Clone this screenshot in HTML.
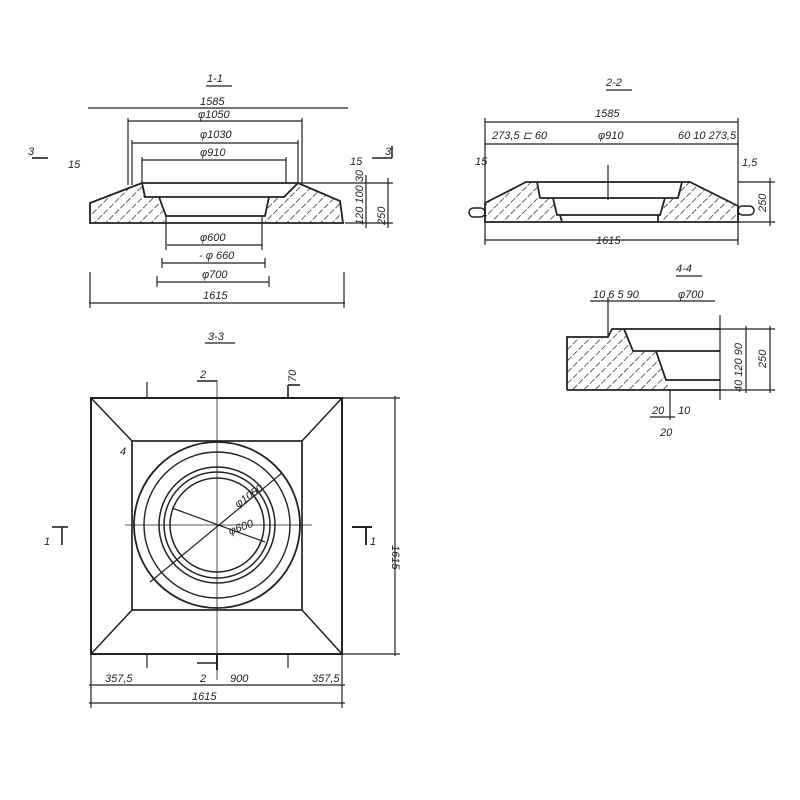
<!DOCTYPE html>
<html><head><meta charset="utf-8"><style>
html,body{margin:0;padding:0;background:#fff}
svg{display:block}
text{font-family:"Liberation Sans",sans-serif;font-style:italic;font-size:11px;fill:#222}
</style></head><body>
<svg width="800" height="800" viewBox="0 0 800 800" xmlns="http://www.w3.org/2000/svg">
<defs>
<pattern id="h" width="8" height="8" patternUnits="userSpaceOnUse" patternTransform="rotate(45)">
<line x1="0" y1="0" x2="0" y2="8" stroke="#222" stroke-width="1.4" stroke-dasharray="6,2"/>
</pattern>
</defs>
<g stroke="#222" fill="none" stroke-width="1.2">
<!-- 1-1 -->
<line x1="88" y1="108" x2="348" y2="108"/>
<line x1="128" y1="121" x2="302" y2="121"/>
<line x1="132" y1="143" x2="298" y2="143"/>
<line x1="142" y1="160" x2="286" y2="160"/>
<line x1="128" y1="118" x2="128" y2="185"/>
<line x1="132" y1="140" x2="132" y2="185"/>
<line x1="142" y1="157" x2="142" y2="183"/>
<line x1="286" y1="157" x2="286" y2="183"/>
<line x1="298" y1="140" x2="298" y2="183"/>
<line x1="302" y1="118" x2="302" y2="183"/>
<line x1="298" y1="183" x2="393" y2="183"/>
<line x1="345" y1="223" x2="393" y2="223"/>
<line x1="388" y1="178" x2="388" y2="228"/>
<line x1="366" y1="175" x2="366" y2="228"/>
<path d="M90,203 L142,183 L145,197 L159,197 L166,216 L166,223 L90,223 Z" fill="url(#h)" stroke="none"/>
<path d="M298,183 L340,201 L343,223 L265,223 L265,216 L269,197 L284,197 Z" fill="url(#h)" stroke="none"/>
<path d="M90,223 L90,203 L142,183 L298,183 L340,201 L343,223 Z" stroke-width="1.8"/>
<path d="M142,183 L145,197 L284,197 L298,183" stroke-width="1.8"/>
<path d="M159,197 L166,216 L265,216 L269,197" stroke-width="1.8"/>
<line x1="166" y1="216" x2="166" y2="250" />
<line x1="262" y1="216" x2="262" y2="250" />
<line x1="167" y1="245" x2="262" y2="245"/>
<line x1="162" y1="263" x2="265" y2="263"/>
<line x1="162" y1="258" x2="162" y2="268"/>
<line x1="265" y1="258" x2="265" y2="268"/>
<line x1="157" y1="282" x2="269" y2="282"/>
<line x1="157" y1="276" x2="157" y2="287"/>
<line x1="269" y1="276" x2="269" y2="287"/>
<line x1="89" y1="303" x2="345" y2="303"/>
<line x1="90" y1="272" x2="90" y2="308"/>
<line x1="344" y1="272" x2="344" y2="308"/>
<line x1="206" y1="86" x2="232" y2="86"/>
<line x1="32" y1="158" x2="48" y2="158" stroke-width="1.6"/>
<line x1="372" y1="158" x2="392" y2="158" stroke-width="1.6"/>
<line x1="392" y1="146" x2="392" y2="158" stroke-width="1.6"/>
<!-- 2-2 -->
<line x1="485" y1="122" x2="738" y2="122"/>
<line x1="485" y1="144" x2="738" y2="144"/>
<line x1="485" y1="118" x2="485" y2="245"/>
<line x1="738" y1="118" x2="738" y2="245"/>
<line x1="485" y1="240" x2="738" y2="240"/>
<line x1="738" y1="182" x2="775" y2="182"/>
<line x1="738" y1="222" x2="775" y2="222"/>
<line x1="770" y1="178" x2="770" y2="226"/>
<line x1="608" y1="165" x2="608" y2="200"/>
<path d="M485,203 L526,182 L537,182 L537,198 L553,198 L557,215 L560,215 L560,222 L485,222 Z" fill="url(#h)" stroke="none"/>
<path d="M690,182 L738,206 L738,222 L660,222 L660,215 L665,198 L678,198 L678,182 Z" fill="url(#h)" stroke="none"/>
<path d="M485,222 L485,203 L526,182 L690,182 L738,206 L738,222 Z" stroke-width="1.8"/>
<path d="M537,182 L540,198 L678,198 L682,182" stroke-width="1.8"/>
<path d="M553,198 L557,215 L660,215 L665,198" stroke-width="1.8"/>
<path d="M560,215 L562,222 M658,215 L658,222" stroke-width="1.8"/>
<rect x="469" y="208" width="16" height="9" rx="4.5" stroke-width="1.5"/>
<rect x="738" y="206" width="16" height="9" rx="4.5" stroke-width="1.5"/>
<line x1="606" y1="90" x2="632" y2="90"/>
<!-- 4-4 -->
<line x1="676" y1="276" x2="702" y2="276"/>
<path d="M567,337 L608,337 L612,329 L624,329 L633,351 L656,351 L666,380 L672,390 L567,390 Z" fill="url(#h)" stroke="none"/>
<path d="M567,390 L567,337 L608,337 L612,329 L720,329" stroke-width="1.8"/>
<path d="M624,329 L633,351 L720,351" stroke-width="1.8"/>
<path d="M656,351 L666,380 L720,380" stroke-width="1.8"/>
<line x1="567" y1="390" x2="720" y2="390" stroke-width="1.8"/>
<line x1="590" y1="301" x2="715" y2="301"/>
<line x1="608" y1="297" x2="608" y2="337"/>
<line x1="720" y1="315" x2="720" y2="400"/>
<line x1="746" y1="326" x2="746" y2="393"/>
<line x1="770" y1="326" x2="770" y2="393"/>
<line x1="720" y1="329" x2="775" y2="329"/>
<line x1="720" y1="390" x2="775" y2="390"/>
<line x1="670" y1="390" x2="670" y2="420"/>
<line x1="650" y1="417" x2="675" y2="417"/>
<!-- 3-3 -->
<line x1="205" y1="343" x2="235" y2="343"/>
<rect x="91" y="398" width="251" height="256" stroke-width="2"/>
<rect x="132" y="441" width="170" height="169" stroke-width="1.7"/>
<line x1="91" y1="398" x2="132" y2="441" stroke-width="1.5"/>
<line x1="342" y1="398" x2="302" y2="441" stroke-width="1.5"/>
<line x1="91" y1="654" x2="132" y2="610" stroke-width="1.5"/>
<line x1="342" y1="654" x2="302" y2="610" stroke-width="1.5"/>
<circle cx="217" cy="525" r="83" stroke-width="1.8"/>
<circle cx="217" cy="525" r="73" stroke-width="1.4"/>
<circle cx="217" cy="525" r="58" stroke-width="1.5"/>
<circle cx="217" cy="525" r="53" stroke-width="1.5"/>
<circle cx="217" cy="525" r="47" stroke-width="1.5"/>
<line x1="150" y1="582" x2="282" y2="473"/>
<line x1="172" y1="508" x2="265" y2="542"/>
<line x1="125" y1="525" x2="312" y2="525" stroke-width="0.8"/>
<line x1="217" y1="380" x2="217" y2="680" stroke-width="0.8"/>
<line x1="395" y1="396" x2="395" y2="656"/>
<line x1="342" y1="398" x2="400" y2="398"/>
<line x1="342" y1="654" x2="400" y2="654"/>
<line x1="89" y1="685" x2="345" y2="685"/>
<line x1="89" y1="703" x2="345" y2="703"/>
<line x1="91" y1="654" x2="91" y2="708"/>
<line x1="342" y1="654" x2="342" y2="708"/>
<line x1="147" y1="654" x2="147" y2="668"/>
<line x1="288" y1="654" x2="288" y2="668"/>
<line x1="147" y1="382" x2="147" y2="398"/>
<line x1="288" y1="385" x2="288" y2="398" stroke-width="1.6"/>
<line x1="288" y1="385" x2="300" y2="385" stroke-width="1.6"/>
<line x1="197" y1="381" x2="217" y2="381" stroke-width="1.6"/>
<line x1="197" y1="663" x2="217" y2="663" stroke-width="1.6"/>
<line x1="217" y1="655" x2="217" y2="670" stroke-width="2"/>
<line x1="52" y1="527" x2="68" y2="527" stroke-width="1.6"/>
<line x1="62" y1="527" x2="62" y2="545" stroke-width="1.6"/>
<line x1="352" y1="527" x2="372" y2="527" stroke-width="1.9"/>
<line x1="366" y1="527" x2="366" y2="545" stroke-width="1.9"/>
</g>
<text x="207" y="82" font-size="13">1-1</text>
<text x="200" y="105">1585</text>
<text x="198" y="118">φ1050</text>
<text x="200" y="138">φ1030</text>
<text x="200" y="156">φ910</text>
<text x="28" y="155" font-size="13">3</text>
<text x="385" y="155" font-size="13">3</text>
<text x="68" y="168">15</text>
<text x="350" y="165">15</text>
<text transform="translate(363,225) rotate(-90)">120 100 30</text>
<text transform="translate(385,225) rotate(-90)">250</text>
<text x="200" y="241">φ600</text>
<text x="199" y="259">- φ 660</text>
<text x="202" y="278">φ700</text>
<text x="203" y="299">1615</text>
<text x="606" y="86" font-size="13">2-2</text>
<text x="595" y="117">1585</text>
<text x="492" y="139" font-size="10">273,5  ⊏ 60</text>
<text x="598" y="139">φ910</text>
<text x="678" y="139" font-size="10">60  10  273,5</text>
<text x="475" y="165" font-size="10">15</text>
<text x="742" y="166" font-size="10">1,5</text>
<text transform="translate(766,212) rotate(-90)">250</text>
<text x="596" y="244">1615</text>
<text x="676" y="272" font-size="13">4-4</text>
<text x="593" y="298" font-size="10">10  6  5  90</text>
<text x="678" y="298">φ700</text>
<text transform="translate(742,392) rotate(-90)" font-size="10">40  120  90</text>
<text transform="translate(766,368) rotate(-90)">250</text>
<text x="652" y="414" font-size="10">20</text>
<text x="678" y="414" font-size="10">10</text>
<text x="660" y="436" font-size="10">20</text>
<text x="208" y="340" font-size="13">3-3</text>
<text x="200" y="378">2</text>
<text x="200" y="682">2</text>
<text transform="translate(296,382) rotate(-90)" font-size="9">70</text>
<text x="44" y="545" font-size="13">1</text>
<text x="370" y="545" font-size="13">1</text>
<text transform="translate(238,508) rotate(-35)" font-size="10">φ1050</text>
<text transform="translate(230,535) rotate(-20)" font-size="10">φ600</text>
<text x="120" y="455" font-size="10">4</text>
<text transform="translate(392,545) rotate(90)">1615</text>
<text x="105" y="682">357,5</text>
<text x="230" y="682">900</text>
<text x="312" y="682">357,5</text>
<text x="192" y="700">1615</text>
</svg>
</body></html>
